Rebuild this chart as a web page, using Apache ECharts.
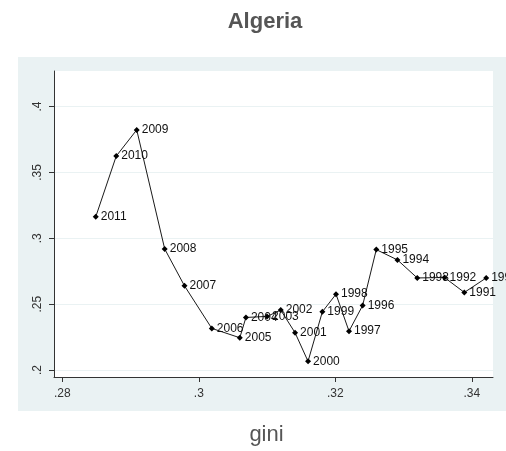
<!DOCTYPE html>
<html>
<head>
<meta charset="utf-8">
<script src="https://cdn.jsdelivr.net/npm/echarts@6/dist/echarts.min.js"></script>
<style>
  html, body { margin: 0; padding: 0; background: #ffffff; }
  #chart { width: 506px; height: 451px; }
</style>
</head>
<body>
<div id="chart"></div>
<script>
// Survey years, Gini coefficient (x) and the plotted ratio (y)
const years = [2011, 2010, 2009, 2008, 2007, 2006, 2005, 2004, 2003, 2002, 2001, 2000,
               1999, 1998, 1997, 1996, 1995, 1994, 1993, 1992, 1991, 1990];
const gini = [0.2849, 0.2879, 0.2909, 0.2950, 0.2979, 0.3019, 0.3060, 0.3069, 0.3100, 0.3120, 0.3141, 0.3160,
              0.3181, 0.3201, 0.3220, 0.3240, 0.3260, 0.3291, 0.3320, 0.3360, 0.3389, 0.3421];
const ratio = [0.3164, 0.3624, 0.3823, 0.2919, 0.2639, 0.2316, 0.2245, 0.2399, 0.2407, 0.2455, 0.2283, 0.2066,
               0.2442, 0.2576, 0.2295, 0.2490, 0.2914, 0.2836, 0.2699, 0.2702, 0.2589, 0.2699];
const xTicks = [0.28, 0.30, 0.32, 0.34];
const yTicks = [0.20, 0.25, 0.30, 0.35, 0.40];

const points = years.map((yr, i) => ({ value: [gini[i], ratio[i]], year: yr }));

// Stata-style decimal labels: ".28", ".3"
const fmt = v => String(+v.toFixed(2)).replace(/^0\./, '.');

const FONT = 'Liberation Sans, Arial, sans-serif';

const chart = echarts.init(document.getElementById('chart'), null, { renderer: 'canvas' });
chart.setOption({
  animation: false,
  backgroundColor: '#ffffff',
  textStyle: { fontFamily: FONT },
  title: {
    text: 'Algeria',
    left: 260,
    textAlign: 'center',
    top: 6,
    textStyle: { fontSize: 22, fontWeight: 'bold', color: '#555555', fontFamily: FONT }
  },
  graphic: [{
    type: 'rect',
    z: -10,
    silent: true,
    shape: { x: 18, y: 57, width: 490, height: 354 },
    style: { fill: '#eaf2f3' }
  }],
  grid: { left: 54, right: 13, top: 71, bottom: 74, show: true, backgroundColor: '#ffffff', borderWidth: 0 },
  xAxis: {
    type: 'value',
    min: 0.27878,
    max: 0.3431,
    name: 'gini',
    nameLocation: 'middle',
    nameGap: 47,
    nameTextStyle: { fontSize: 22, color: '#555555', padding: [0, 14, 0, 0] },
    axisLine: { show: true, lineStyle: { color: '#333333', width: 1 } },
    axisTick: { show: true, length: 5, customValues: xTicks, lineStyle: { color: '#333333' } },
    axisLabel: { customValues: xTicks, formatter: fmt, fontSize: 12, color: '#333333', margin: 11 },
    splitLine: { show: false }
  },
  yAxis: {
    type: 'value',
    min: 0.1947,
    max: 0.427,
    axisLine: { show: true, lineStyle: { color: '#333333', width: 1 } },
    axisTick: { show: true, length: 5, customValues: yTicks, lineStyle: { color: '#333333' } },
    axisLabel: { customValues: yTicks, formatter: fmt, fontSize: 12, color: '#333333', rotate: 90, margin: 10 },
    splitLine: { show: true, customValues: yTicks, lineStyle: { color: '#eaf2f3', width: 1 } }
  },
  series: [{
    type: 'line',
    data: points,
    symbol: 'diamond',
    symbolSize: 6,
    itemStyle: { color: '#000000' },
    lineStyle: { color: '#1a1a1a', width: 1 },
    label: {
      show: true,
      position: 'right',
      distance: 2,
      fontSize: 12,
      color: '#111111',
      formatter: p => String(p.data.year)
    },
    labelLayout: { hideOverlap: false }
  }]
});
</script>
</body>
</html>
